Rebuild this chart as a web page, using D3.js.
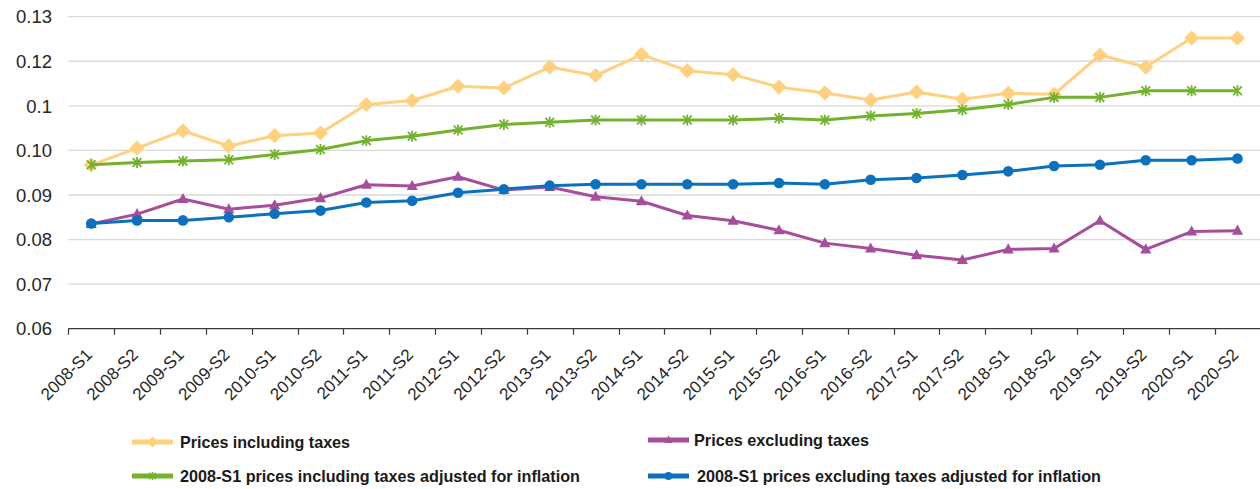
<!DOCTYPE html>
<html>
<head>
<meta charset="utf-8">
<script src="https://cdn.jsdelivr.net/npm/d3@7"></script>
<style>
  html, body { margin: 0; padding: 0; background: #fff; }
  svg { display: block; }
</style>
</head>
<body>
<svg id="chart" width="1260" height="489"></svg>
<script>
// Half-year periods on the x axis
const periods = [
  "2008-S1","2008-S2","2009-S1","2009-S2","2010-S1","2010-S2","2011-S1","2011-S2",
  "2012-S1","2012-S2","2013-S1","2013-S2","2014-S1","2014-S2","2015-S1","2015-S2",
  "2016-S1","2016-S2","2017-S1","2017-S2","2018-S1","2018-S2","2019-S1","2019-S2",
  "2020-S1","2020-S2"
];

// Price series
const pricesInclTaxes = [
  0.0967, 0.1005, 0.1044, 0.1010, 0.1033, 0.1039, 0.1103, 0.1112,
  0.1144, 0.1140, 0.1187, 0.1168, 0.1215, 0.1179, 0.1170, 0.1142,
  0.1129, 0.1113, 0.1131, 0.1115, 0.1128, 0.1126, 0.1214, 0.1187,
  0.1252, 0.1252
];
const pricesExclTaxes = [
  0.0835, 0.0857, 0.0891, 0.0868, 0.0877, 0.0893, 0.0923, 0.0920,
  0.0941, 0.0911, 0.0918, 0.0896, 0.0886, 0.0854, 0.0842, 0.0821,
  0.0792, 0.0780, 0.0765, 0.0754, 0.0778, 0.0780, 0.0842, 0.0778,
  0.0818, 0.0820
];
const inclTaxesInflation = [
  0.0968, 0.0973, 0.0976, 0.0979, 0.0991, 0.1002, 0.1022, 0.1032,
  0.1046, 0.1058, 0.1063, 0.1068, 0.1068, 0.1068, 0.1068, 0.1072,
  0.1068, 0.1077, 0.1083, 0.1091, 0.1103, 0.1119, 0.1119, 0.1134,
  0.1134, 0.1134
];
const exclTaxesInflation = [
  0.0836, 0.0843, 0.0843, 0.0850, 0.0858, 0.0865, 0.0883, 0.0887,
  0.0905, 0.0913, 0.0921, 0.0924, 0.0924, 0.0924, 0.0924, 0.0927,
  0.0924, 0.0934, 0.0938, 0.0945, 0.0953, 0.0965, 0.0968, 0.0978,
  0.0978, 0.0982
];

// Y axis ticks and their printed labels
const yTickValues = [0.06, 0.07, 0.08, 0.09, 0.10, 0.11, 0.12, 0.13];
const yTickLabels = ["0.06", "0.07", "0.08", "0.09", "0.10", "0.1", "0.12", "0.13"];

const seriesNames = [
  "Prices including taxes",
  "Prices excluding taxes",
  "2008-S1 prices including taxes adjusted for inflation",
  "2008-S1 prices excluding taxes adjusted for inflation"
];

// ---- symbols ----
const symDiamond = {
  draw(ctx, size) {
    const r = Math.sqrt(size / 2);
    ctx.moveTo(0, -r); ctx.lineTo(r, 0); ctx.lineTo(0, r); ctx.lineTo(-r, 0); ctx.closePath();
  }
};
const symTriangle = {
  draw(ctx, size) {
    const s = Math.sqrt(size);
    const h = s * 0.9;
    ctx.moveTo(0, -h * 0.6); ctx.lineTo(s / 2, h * 0.4); ctx.lineTo(-s / 2, h * 0.4); ctx.closePath();
  }
};
const symStar = {
  draw(ctx, size) {
    const r = Math.sqrt(size) / 2;
    ctx.moveTo(0, -r); ctx.lineTo(0, r);
    const a = r * 0.8;
    ctx.moveTo(-a, -a); ctx.lineTo(a, a);
    ctx.moveTo(-a, a); ctx.lineTo(a, -a);
  }
};

const series = [
  { name: seriesNames[0], values: pricesInclTaxes, color: "#FFD07E", symbol: symDiamond, size: 115, stroked: false },
  { name: seriesNames[1], values: pricesExclTaxes, color: "#A64D9B", symbol: symTriangle, size: 125, stroked: false },
  { name: seriesNames[2], values: inclTaxesInflation, color: "#72B22C", symbol: symStar, size: 120, stroked: true },
  { name: seriesNames[3], values: exclTaxesInflation, color: "#0C71BD", symbol: d3.symbolCircle, size: 88, stroked: false }
];

const svg = d3.select("#chart");
const plotLeft = 68.3, plotRight = 1260.4, plotTop = 16.7, plotBottom = 328.7;

const x = d3.scaleBand().domain(periods).range([plotLeft, plotRight]).paddingInner(0).paddingOuter(0);
const y = d3.scaleLinear().domain([0.06, 0.13]).range([plotBottom, plotTop]);
const cx = p => x(p) + x.bandwidth() / 2;

// gridlines
svg.append("g")
  .selectAll("line")
  .data(yTickValues.filter(v => v > 0.06))
  .join("line")
  .attr("x1", plotLeft).attr("x2", 1260)
  .attr("y1", d => y(d)).attr("y2", d => y(d))
  .attr("stroke", "#d9d9d9").attr("stroke-width", 1.3);

// y labels
svg.append("g")
  .selectAll("text")
  .data(yTickValues)
  .join("text")
  .attr("x", 52).attr("y", d => y(d))
  .attr("dy", "0.36em")
  .attr("text-anchor", "end")
  .attr("font-family", "Liberation Sans, Arial, sans-serif")
  .attr("font-size", 18.5)
  .attr("fill", "#262626")
  .text((d, i) => yTickLabels[i]);

// x axis line and ticks at band boundaries
const xAxis = svg.append("g");
xAxis.append("line")
  .attr("x1", plotLeft).attr("x2", 1260)
  .attr("y1", plotBottom).attr("y2", plotBottom)
  .attr("stroke", "#3a3a3a").attr("stroke-width", 1.3);
xAxis.selectAll("line.tick")
  .data(periods)
  .join("line")
  .attr("class", "tick")
  .attr("x1", d => Math.round(x(d)) + 0.5).attr("x2", d => Math.round(x(d)) + 0.5)
  .attr("y1", plotBottom).attr("y2", plotBottom + 6)
  .attr("stroke", "#3a3a3a").attr("stroke-width", 1.2);

xAxis.selectAll("text")
  .data(periods)
  .join("text")
  .attr("transform", d => `translate(${cx(d) + 2},${plotBottom + 27}) rotate(-45)`)
  .attr("text-anchor", "end")
  .attr("font-family", "Liberation Sans, Arial, sans-serif")
  .attr("font-size", 17)
  .attr("fill", "#262626")
  .text(d => d);

// series lines and markers
const line = d3.line().x((d, i) => cx(periods[i])).y(d => y(d));

series.forEach(s => {
  const g = svg.append("g");
  g.append("path")
    .attr("d", line(s.values))
    .attr("fill", "none")
    .attr("stroke", s.color)
    .attr("stroke-width", 3)
    .attr("stroke-linejoin", "round");
  g.selectAll("path.m")
    .data(s.values)
    .join("path")
    .attr("class", "m")
    .attr("transform", (d, i) => `translate(${cx(periods[i])},${y(d)})`)
    .attr("d", d3.symbol(s.symbol, s.size))
    .attr("fill", s.stroked ? "none" : s.color)
    .attr("stroke", s.color)
    .attr("stroke-width", s.stroked ? 1.8 : 0);
});

// legend
const legendItems = [
  { s: series[0], lx: 132, tx: 180, y: 442, w: 170 },
  { s: series[1], lx: 648, tx: 694, y: 440, w: 175 },
  { s: series[2], lx: 132, tx: 180, y: 476, w: 400 },
  { s: series[3], lx: 648, tx: 697, y: 476, w: 404 }
];
const legend = svg.append("g");
legendItems.forEach(it => {
  const g = legend.append("g");
  g.append("line")
    .attr("x1", it.lx).attr("x2", it.lx + 41)
    .attr("y1", it.y).attr("y2", it.y)
    .attr("stroke", it.s.color).attr("stroke-width", 5);
  g.append("path")
    .attr("transform", `translate(${it.lx + 20.5},${it.y})`)
    .attr("d", d3.symbol(it.s.symbol, it.s.size * 0.55))
    .attr("fill", it.s.stroked ? "none" : it.s.color)
    .attr("stroke", it.s.color)
    .attr("stroke-width", it.s.stroked ? 1.4 : 0);
  g.append("text")
    .attr("x", it.tx).attr("y", it.y)
    .attr("dy", "0.36em")
    .attr("font-family", "Liberation Sans Narrow, Arial Narrow, Liberation Sans, sans-serif")
    .attr("font-weight", "bold")
    .attr("font-size", 17)
    .attr("fill", "#1a1a1a")
    .attr("textLength", it.w)
    .attr("lengthAdjust", "spacingAndGlyphs")
    .text(it.s.name);
});
</script>
</body>
</html>
